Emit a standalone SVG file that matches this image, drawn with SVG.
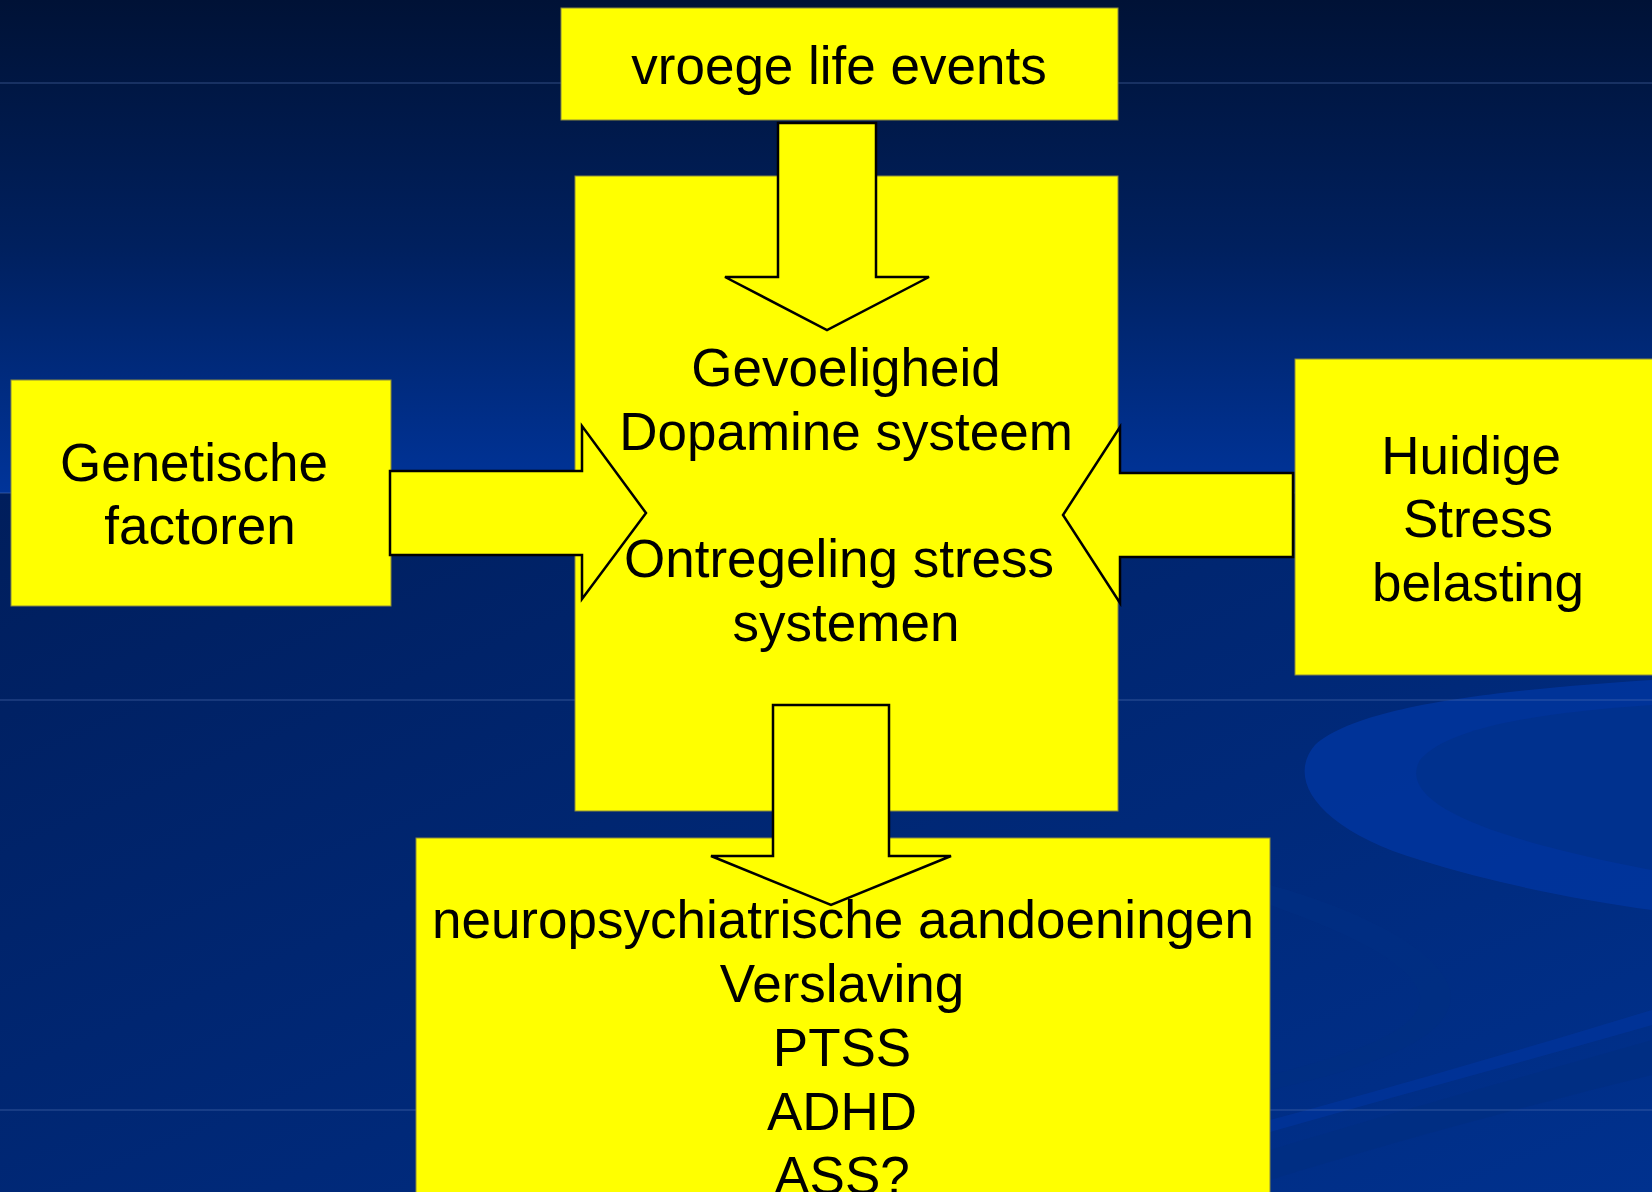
<svg xmlns="http://www.w3.org/2000/svg" width="1652" height="1192" viewBox="0 0 1652 1192">
<defs>
<linearGradient id="bgTop" x1="0" y1="0" x2="0" y2="1">
<stop offset="0" stop-color="#001236"/>
<stop offset="0.5" stop-color="#00205e"/>
<stop offset="1" stop-color="#00349a"/>
</linearGradient>
<linearGradient id="bgBot" x1="0" y1="0" x2="1" y2="1">
<stop offset="0" stop-color="#001e5c"/>
<stop offset="1" stop-color="#00318e"/>
</linearGradient>
<style>
.box{fill:#ffff00;stroke:#8a8a40;stroke-width:1}
.arrow{fill:#ffff00;stroke:#000;stroke-width:2.5;stroke-linejoin:miter}
.t{font-family:"Liberation Sans",Arial,sans-serif;font-size:53px;fill:#000;text-anchor:middle}
.hl{stroke:#5a78b8;stroke-width:1;opacity:0.55}
</style>
</defs>
<g id="background">
<rect x="0" y="0" width="1652" height="493" fill="url(#bgTop)"/>
<rect x="0" y="493" width="1652" height="699" fill="url(#bgBot)"/>
<path d="M1652 680 C1500 690 1360 705 1315 745 C1285 780 1320 830 1420 860 C1500 885 1580 900 1652 910 Z" fill="#0036a0" opacity="0.8"/>
<path d="M1652 705 C1550 712 1450 725 1420 760 C1400 795 1460 825 1560 850 C1600 860 1630 866 1652 870 Z" fill="#00318e"/>
<path d="M1270 885 C1360 910 1440 950 1450 990 C1460 1040 1360 1070 1270 1090 L1270 1075 C1350 1055 1425 1030 1420 995 C1410 960 1340 930 1270 905 Z" fill="#002e82" opacity="0.8"/>
<path d="M1270 1150 C1400 1110 1530 1075 1652 1040 L1652 1075 C1530 1105 1400 1140 1270 1180 Z" fill="#002e82" opacity="0.8"/>
<path d="M1270 1120 C1400 1085 1520 1050 1652 1010 L1652 1025 C1530 1060 1400 1095 1270 1132 Z" fill="#0036a0" opacity="0.6"/>
<line class="hl" x1="0" y1="83" x2="1652" y2="83" opacity="0.25"/>
<line class="hl" x1="0" y1="493" x2="1652" y2="493" opacity="0.3"/>
<line class="hl" x1="0" y1="700" x2="1652" y2="700"/>
<line class="hl" x1="0" y1="1110" x2="1652" y2="1110"/>
</g>
<g id="node-vroege">
<rect class="box" x="561" y="8" width="557" height="112"/>
<text class="t" x="839" y="84">vroege life events</text>
</g>
<g id="node-center">
<rect class="box" x="575" y="176" width="543" height="635"/>
</g>
<g id="node-genetische">
<rect class="box" x="11" y="380" width="380" height="226"/>
<text class="t" x="194" y="481">Genetische</text>
<text class="t" x="200" y="544">factoren</text>
</g>
<g id="node-huidige">
<rect class="box" x="1295" y="359" width="370" height="316"/>
<text class="t" x="1471" y="474">Huidige</text>
<text class="t" x="1478" y="537">Stress</text>
<text class="t" x="1478" y="601">belasting</text>
</g>
<g id="node-bottom">
<rect class="box" x="416" y="838" width="854" height="370"/>
</g>
<g id="connectors">
<polygon class="arrow" points="778,123 876,123 876,277 929,277 827,330 725,277 778,277"/>
<polygon class="arrow" points="390,471 582,471 582,426 646,513 582,599 582,555 390,555"/>
<polygon class="arrow" points="1293,473 1120,473 1120,427 1063,515 1120,603 1120,557 1293,557"/>
<polygon class="arrow" points="773,705 889,705 889,856 951,856 831,905 711,856 773,856"/>
</g>
<g id="node-center-text">
<text class="t" x="846" y="386">Gevoeligheid</text>
<text class="t" x="846" y="450">Dopamine systeem</text>
<text class="t" x="839" y="577">Ontregeling stress</text>
<text class="t" x="846" y="641">systemen</text>
</g>
<g id="node-bottom-text">
<text class="t" x="843" y="938">neuropsychiatrische aandoeningen</text>
<text class="t" x="842" y="1002">Verslaving</text>
<text class="t" x="842" y="1066">PTSS</text>
<text class="t" x="842" y="1130">ADHD</text>
<text class="t" x="842" y="1194">ASS?</text>
</g>
</svg>
